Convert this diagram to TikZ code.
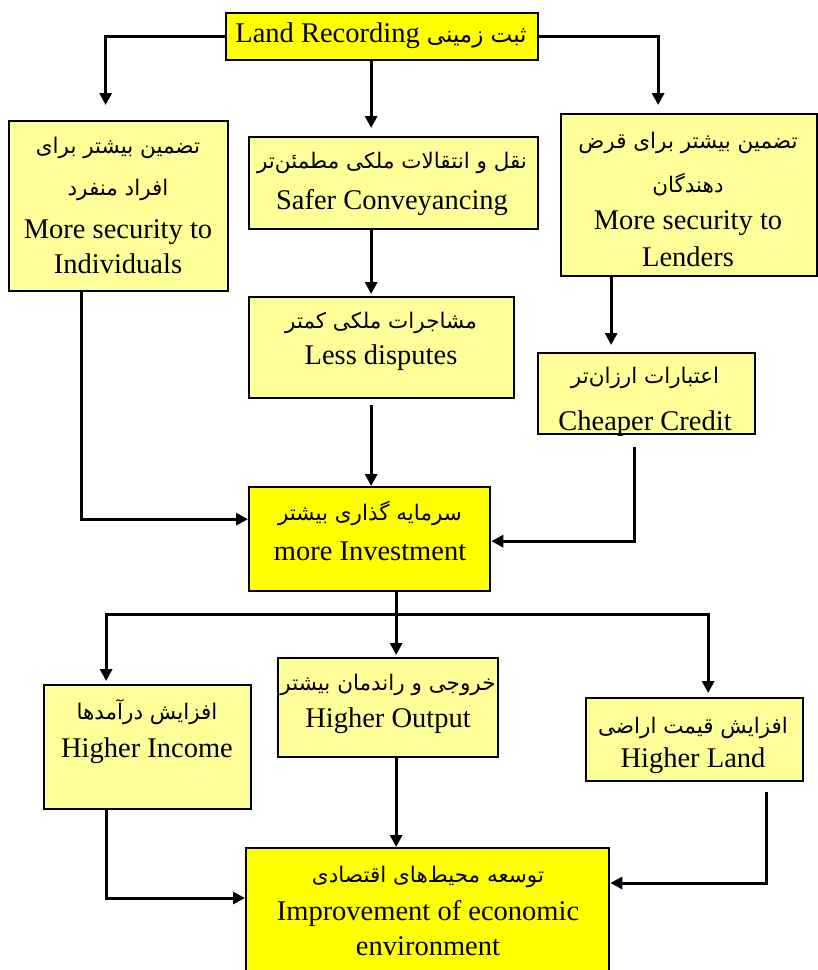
\documentclass[tikz,border=0pt]{standalone}
\usepackage{fontspec}
\setmainfont{Liberation Serif}
\newfontfamily\fa[Script=Arabic]{DejaVu Sans}
\TeXXeTstate=1
\usetikzlibrary{arrows.meta,calc}
\definecolor{brightyellow}{HTML}{FFFF00}
\definecolor{paleyellow}{HTML}{FFFF99}
\tikzset{
  box/.style={draw=black, line width=2.3pt, anchor=north west, inner sep=0pt},
  hot/.style={box, fill=brightyellow},
  soft/.style={box, fill=paleyellow},
  en/.style={font=\fontsize{28.5}{34}\selectfont, inner sep=0pt},
  fa/.style={font=\fa\fontsize{21.5}{26}\selectfont, inner sep=0pt},
  link/.style={line width=3pt},
  arr/.style={link, -{Triangle[length=12pt,width=12pt]}},
}
\begin{document}
\begin{tikzpicture}[x=1pt,y=-1pt]
\useasboundingbox (0,0) rectangle (818,970);

% boxes
\node[hot,  minimum width=312pt, minimum height=47pt]  (lr)  at (225,12)  {};
\node[soft, minimum width=219pt, minimum height=170pt] (ind) at (8,120)   {};
\node[soft, minimum width=289pt, minimum height=92pt]  (saf) at (248,136) {};
\node[soft, minimum width=256pt, minimum height=162pt] (len) at (560,113) {};
\node[soft, minimum width=265pt, minimum height=101pt] (les) at (248,296) {};
\node[soft, minimum width=217pt, minimum height=81pt]  (chp) at (537,352) {};
\node[hot,  minimum width=241pt, minimum height=104pt] (inv) at (248,486) {};
\node[soft, minimum width=207pt, minimum height=124pt] (inc) at (43,684)  {};
\node[soft, minimum width=220pt, minimum height=99pt]  (out) at (277,657) {};
\node[soft, minimum width=217pt, minimum height=83pt]  (lnd) at (585,697) {};
\node[hot,  minimum width=363pt, minimum height=133pt] (imp) at (245,847) {};

% labels
\node[en] (lrT) at (381,36) {Land Recording {\fa\fontsize{23}{26}\selectfont\beginR ثبت زمینی\endR}};

\node[fa] (indA) at (118,148) {\beginR تضمین بیشتر برای\endR};
\node[fa] (indB) at (118,190) {\beginR افراد منفرد\endR};
\node[en] (indC) at (118,232) {More security to};
\node[en] (indD) at (118,264) {Individuals};

\node[fa] (safA) at (392,163) {\beginR نقل و انتقالات ملکی مطمئن^^^^200cتر\endR};
\node[en] (safB) at (392,203) {Safer Conveyancing};

\node[fa] (lenA) at (688,143) {\beginR تضمین بیشتر برای قرض\endR};
\node[fa] (lenB) at (688,185) {\beginR دهندگان\endR};
\node[en] (lenC) at (688,223) {More security to};
\node[en] (lenD) at (688,257) {Lenders};

\node[fa] (lesA) at (381,323) {\beginR مشاجرات ملکی کمتر\endR};
\node[en] (lesB) at (381,358) {Less disputes};

\node[fa] (chpA) at (645,378) {\beginR اعتبارات ارزان^^^^200cتر\endR};
\begin{scope}
  \clip (chp.north west) rectangle (chp.south east);
  \node[en] (chpB) at (645,424) {Cheaper Credit};
\end{scope}

\node[fa] (invA) at (370,513) {\beginR سرمایه گذاری بیشتر\endR};
\node[en] (invB) at (370,551) {more Investment};

\node[fa] (incA) at (147,712) {\beginR افزایش درآمدها\endR};
\node[en] (incB) at (147,751) {Higher Income};

\node[fa] (outA) at (388,685) {\beginR خروجی و راندمان بیشتر\endR};
\node[en] (outB) at (388,721) {Higher Output};

\node[fa] (lndA) at (693,728) {\beginR افزایش قیمت اراضی\endR};
\node[en] (lndB) at (693,761) {Higher Land};

\node[fa] (impA) at (428,877) {\beginR توسعه محیط^^^^200cهای اقتصادی\endR};
\node[en] (impB) at (428,913) {Improvement of economic};
\node[en] (impC) at (428,946) {environment};

% connectors from the top box
\draw[arr] (lr.west) -| ([xshift=-13pt,yshift=15pt]ind.north);
\draw[arr] (lr.east) -| ([xshift=-31pt,yshift=8pt]len.north);
\draw[arr] ([xshift=-11pt]lr.south) -- ([xshift=-22.5pt,yshift=8pt]saf.north);

% middle column
\draw[arr] ([xshift=-22.5pt]saf.south) -- ([xshift=-10.5pt,yshift=2pt]les.north);
\draw[arr] ([xshift=-10.5pt,yshift=-6pt]les.south) -- ([xshift=1.5pt]inv.north);
\draw[arr] ([xshift=-78pt]len.south) -- ([xshift=-35.5pt,yshift=7pt]chp.north);

% into the investment box
\draw[arr] ([xshift=-37.5pt]ind.south) |- ([yshift=20pt]inv.west);
\draw[arr] ([xshift=-12.5pt,yshift=-12pt]chp.south) |- ([yshift=-2pt]inv.east);

% split below the investment box
\coordinate (split) at ([xshift=26.5pt,yshift=-22pt]inv.south);
\draw[link] ([xshift=26.5pt]inv.south) -- (split);
\draw[arr] (split) -| ([xshift=-41.5pt,yshift=3pt]inc.north);
\draw[arr] (split) -- ([xshift=8pt,yshift=2pt]out.north);
\draw[arr] (split) -| ([xshift=13.5pt,yshift=4pt]lnd.north);

% into the bottom box
\draw[arr] ([xshift=-41.5pt]inc.south) |- ([yshift=-51pt]imp.north west);
\draw[arr] ([xshift=8pt]out.south) -- ([xshift=-31.5pt]imp.north);
\draw[arr] ([xshift=71.5pt,yshift=-10pt]lnd.south) |- ([yshift=-36pt]imp.north east);
\end{tikzpicture}
\end{document}
